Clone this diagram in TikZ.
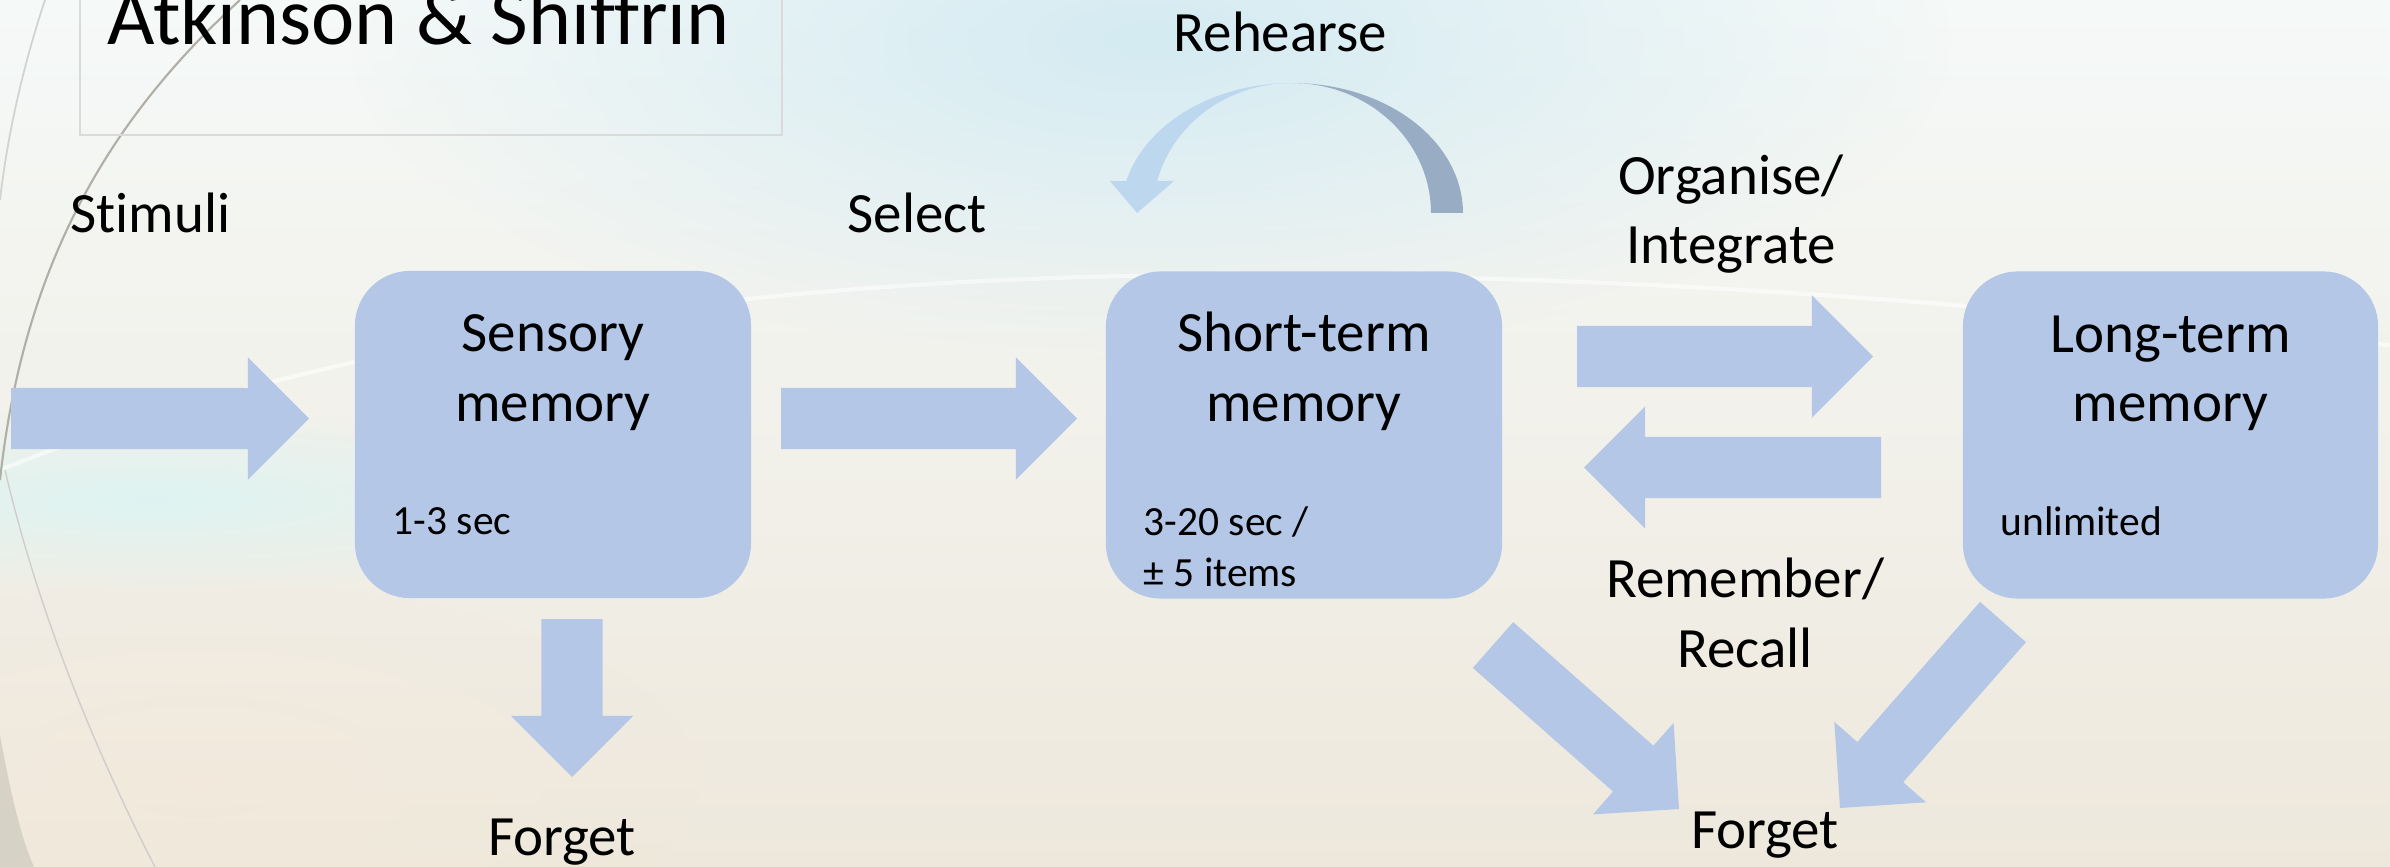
\documentclass[tikz,border=0pt]{standalone}
\usepackage{fontspec}
\setmainfont[Ligatures=NoCommon]{Carlito}
\usetikzlibrary{calc,fadings}

\definecolor{boxblue}{RGB}{180,199,231}
\definecolor{rehlight}{RGB}{189,215,238}
\definecolor{rehdark}{RGB}{152,173,196}
\definecolor{bgtop}{RGB}{245,249,248}
\definecolor{bgmid}{RGB}{248,250,247}
\definecolor{bgbot}{RGB}{238,232,220}
\definecolor{glowblue}{RGB}{212,235,242}
\definecolor{glowcyan}{RGB}{222,244,242}
\definecolor{arcgray}{RGB}{176,174,166}
\definecolor{edgegray}{RGB}{214,211,198}
\definecolor{framegray}{RGB}{218,218,218}

\tikzfading[name=softedge, inner color=transparent!0, outer color=transparent!100]

% block arrow from tail centre #2 to tip #3 (shaft 61, head 122 wide, head 61 long)
\newcommand\blockarrow[3][]{%
  \path ($(#3)!0.61cm!(#2)$) coordinate (ah);
  \fill[boxblue,#1]
    ($(#2)!0.305cm!90:(#3)$) -- ($(ah)!0.305cm!-90:(#2)$) -- ($(ah)!0.61cm!-90:(#2)$)
    -- (#3) -- ($(ah)!0.61cm!90:(#2)$) -- ($(ah)!0.305cm!90:(#2)$)
    -- ($(#2)!0.305cm!-90:(#3)$) -- cycle;}

\begin{document}
\begin{tikzpicture}[x=0.01cm,y=-0.01cm,
  membox/.style={fill=boxblue, rounded corners=0.55cm, minimum height=3.27cm, inner sep=0},
  bigtext/.style={font=\fontsize{16.2}{19.9}\selectfont, inner sep=0, align=center},
  smalltext/.style={font=\fontsize{11.8}{14.5}\selectfont, inner sep=0, align=left},
  titletext/.style={font=\fontsize{23.3}{28}\selectfont, inner sep=0}]

% slide background
\useasboundingbox (0,0) rectangle (2390,867);
\shade[top color=bgtop, middle color=bgmid, bottom color=bgbot] (0,0) rectangle (2390,867);
\begin{scope}
  \clip (0,0) rectangle (2390,867);
  \fill[glowblue, path fading=softedge] (1150,40) ellipse [x radius=8cm, y radius=3.2cm];
  \fill[glowcyan, path fading=softedge] (150,500) ellipse [x radius=5cm, y radius=0.9cm];
  \fill[bgbot!80!orange!50!white, path fading=softedge, opacity=0.35] (200,780) ellipse [x radius=5cm, y radius=2cm];
  \draw[white, line width=1.2pt, opacity=0.55] (0,470) .. controls (350,330) and (800,270) .. (1300,275) .. controls (1800,280) and (2100,320) .. (2390,345);
  \fill[edgegray] (0,735) .. controls (10,790) and (20,835) .. (34,867) -- (0,867) -- cycle;
  \draw[arcgray!60, line width=0.4pt] (5,470) .. controls (40,620) and (100,760) .. (155,867);
  \draw[arcgray, line width=0.6pt] (240,0) .. controls (120,110) and (25,250) .. (0,480);
  \draw[arcgray!55, line width=0.5pt] (45,0) .. controls (25,60) and (8,130) .. (0,200);
\end{scope}

% title
\draw[framegray, line width=0.6pt] (80,-5) rectangle (782,135);
\node[titletext, anchor=base west] (title) at (107,45) {Atkinson \& Shiffrin};

% memory stores
\node[membox, minimum width=3.96cm] (sensory) at (553,434.5) {};
\node[membox, minimum width=3.96cm] (short) at (1304,435) {};
\node[membox, minimum width=4.15cm] (long) at (2170.5,435) {};

% two-line texts are placed by the baseline of their last line
\node[bigtext, anchor=base] (sensorytxt) at (553,421) {Sensory\\memory};
\node[bigtext, anchor=base] (shorttxt) at (1304,421) {Short-term\\memory};
\node[bigtext, anchor=base] (longtxt) at (2170.5,422) {Long-term\\memory};

\node[smalltext, anchor=base west] (sensorydur) at (392,534) {1-3 sec};
\node[smalltext, anchor=base west] (shortdur) at (1143,586) {3-20 sec /\\± 5 items};
\node[smalltext, anchor=base west] (longdur) at (2000,535) {unlimited};

% process labels
\node[bigtext, anchor=base west] (stimuli) at (70,232) {Stimuli};
\node[bigtext, anchor=base west] (select) at (847,232) {Select};
\node[bigtext, anchor=base west] (rehearse) at (1173,52) {Rehearse};
\node[bigtext, anchor=base] (organise) at (1731,264) {Organise/\\Integrate};
\node[bigtext, anchor=base] (remember) at (1745,667) {Remember/\\Recall};
\node[bigtext, anchor=base] (forgetA) at (562,855) {Forget};
\node[bigtext, anchor=base] (forgetB) at (1765,848) {Forget};

% block arrows
\coordinate (stimT) at (11,418.5);   \coordinate (stimH) at (309,418.5);
\coordinate (selT)  at (781,418.5);  \coordinate (selH)  at (1077,418.5);
\coordinate (orgT)  at (1577,356.5); \coordinate (orgH)  at (1873,356.5);
\coordinate (remT)  at (1881,467.5); \coordinate (remH)  at (1584,467.5);
\coordinate (fgAT)  at (572,619);    \coordinate (fgAH)  at (572,777);
\coordinate (fgBT)  at (1493,645);   \coordinate (fgBH)  at (1679,809);
\coordinate (fgCT)  at (2003,622);   \coordinate (fgCH)  at (1840,808);
\blockarrow{stimT}{stimH}
\blockarrow{selT}{selH}
\blockarrow{orgT}{orgH}
\blockarrow{remT}{remH}
\blockarrow{fgAT}{fgAH}
\blockarrow{fgBT}{fgBH}
\blockarrow{fgCT}{fgCH}

% rehearsal loop over the short-term store
\fill[rehdark] (1463,213)
  -- plot[domain=0:90, samples=40] ({1292+171*cos(\x)},{213-130*sin(\x)})
  -- plot[domain=90:0, samples=40] ({1292+139*cos(\x)},{213-130*sin(\x)})
  -- cycle;
\fill[rehlight]
  plot[domain=90:165.75, samples=40] ({1292+171*cos(\x)},{213-130*sin(\x)})
  -- (1110,181) -- (1137,213) -- (1174,181)
  -- plot[domain=165.75:90, samples=40] ({1292+139*cos(\x)},{213-130*sin(\x)})
  -- cycle;
\end{tikzpicture}
\end{document}
